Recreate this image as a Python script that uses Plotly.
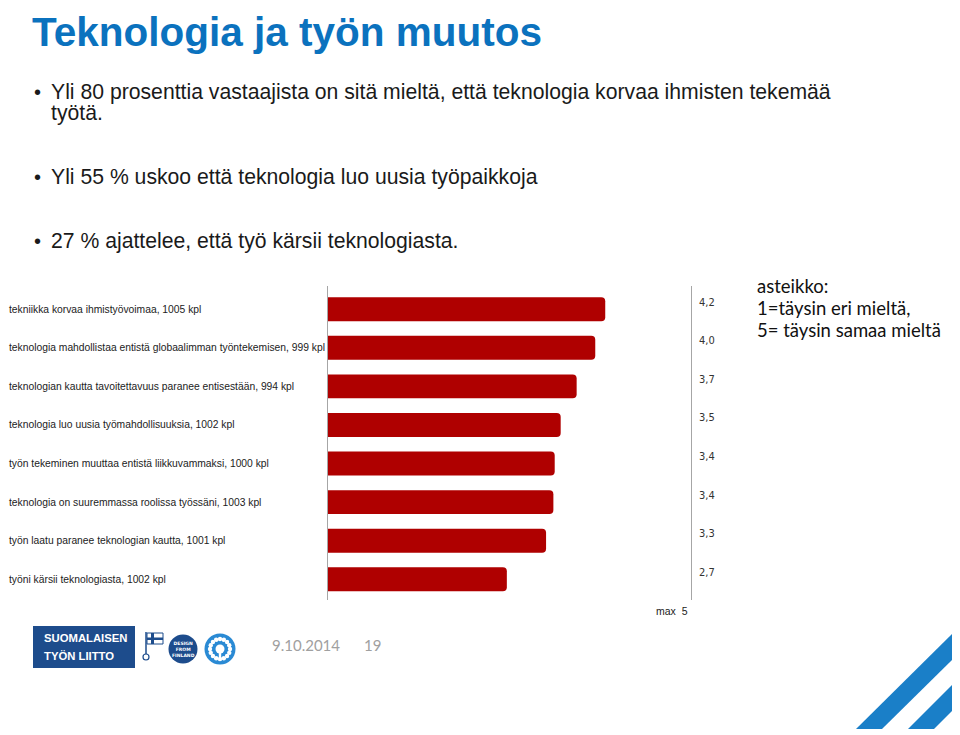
import math
import plotly.graph_objects as go

# page body has an 8px margin, so the figure is placed at (8, 8)
OFF = 8
W, H = 960 - OFF, 735 - OFF

# ---------------- data ----------------
categories = [
    "tekniikka korvaa ihmistyövoimaa, 1005 kpl",
    "teknologia mahdollistaa entistä globaalimman työntekemisen, 999 kpl",
    "teknologian kautta tavoitettavuus paranee entisestään, 994 kpl",
    "teknologia luo uusia työmahdollisuuksia, 1002 kpl",
    "työn tekeminen muuttaa entistä liikkuvammaksi, 1000 kpl",
    "teknologia on suuremmassa roolissa työssäni, 1003 kpl",
    "työn laatu paranee teknologian kautta, 1001 kpl",
    "työni kärsii teknologiasta, 1002 kpl",
]
values = [4.17, 4.02, 3.74, 3.50, 3.41, 3.39, 3.28, 2.69]
value_labels = ["4,2", "4,0", "3,7", "3,5", "3,4", "3,4", "3,3", "2,7"]
scale_max_label = "max  5"

title = "Teknologia ja työn muutos"
bullets = [
    ["Yli 80 prosenttia vastaajista on sitä mieltä, että teknologia korvaa ihmisten tekemää", "työtä."],
    ["Yli 55 % uskoo että teknologia luo uusia työpaikkoja"],
    ["27 % ajattelee, että työ kärsii teknologiasta."],
]
scale_note = ["asteikko:", "1=täysin eri mieltä,", "5= täysin samaa mieltä"]
date_text = "9.10.2014"
page_text = "19"


def px(x):
    return (x - OFF) / W


def py(y):
    return 1 - (y - OFF) / H


BAR_COLOR = "#AF0000"
BLUE = "#0B72BE"
NAVY = "#1D4C8C"

fig = go.Figure()
fig.add_trace(go.Bar(
    y=categories, x=values, orientation="h",
    marker=dict(color=BAR_COLOR, line=dict(width=0)),
    hoverinfo="skip", showlegend=False,
))

# plot area: x 328..691 px, y 286..600 px (screen coordinates)
row_h = 38.57
first_c = 309.25
y_top = -(first_c - 286) / row_h
y_bot = (600 - first_c) / row_h

fig.update_layout(
    width=W, height=H,
    margin=dict(l=0, r=0, t=0, b=0),
    paper_bgcolor="white", plot_bgcolor="white",
    bargap=0.38, barcornerradius=4,
    xaxis=dict(domain=[px(328), px(691)], range=[0, 5.46], visible=False, fixedrange=True),
    yaxis=dict(domain=[py(600), py(286)], type="category", categoryarray=categories,
               range=[y_bot, y_top], showticklabels=False, ticks="",
               showline=True, mirror=True, linecolor="#A6A6A6", linewidth=1,
               showgrid=False, zeroline=False, fixedrange=True),
    font=dict(family="Liberation Sans, Arial, sans-serif", color="#1a1a1a"),
)

ann = []
# category labels
for c in categories:
    ann.append(dict(x=0.0, xref="paper", y=c, yref="y", xanchor="left", yanchor="middle",
                    text=c, showarrow=False, borderpad=0,
                    font=dict(size=10.3, color="#222222", family="Liberation Sans, Arial")))
# value labels
for c, t in zip(categories, value_labels):
    ann.append(dict(x=px(697), xref="paper", y=c, yref="y", xanchor="left", yanchor="middle",
                    yshift=7, text=t, showarrow=False,
                    font=dict(size=11, color="#333333", family="DejaVu Sans Condensed, DejaVu Sans")))
ann.append(dict(x=px(690), xref="paper", y=py(611), yref="paper", xanchor="right", yanchor="middle",
                text=scale_max_label, showarrow=False,
                font=dict(size=10.5, color="#222222", family="Liberation Sans, Arial")))

# title
ann.append(dict(x=px(31), xref="paper", y=py(8), yref="paper", xanchor="left", yanchor="top",
                text=f"<b>{title}</b>", showarrow=False, borderpad=0,
                font=dict(size=40.5, color=BLUE, family="Liberation Sans, Arial")))

# bullets
bullet_y = [[92, 113], [177], [241]]
for lines, ys in zip(bullets, bullet_y):
    ann.append(dict(x=px(32), xref="paper", y=py(ys[0]), yref="paper", xanchor="left",
                    yanchor="middle", text="•", showarrow=False,
                    font=dict(size=20, color="#1a1a1a", family="Liberation Sans, Arial")))
    for line, yy in zip(lines, ys):
        ann.append(dict(x=px(49), xref="paper", y=py(yy), yref="paper", xanchor="left",
                        yanchor="middle", text=line, showarrow=False,
                        font=dict(size=21.2, color="#1a1a1a", family="Liberation Sans, Arial")))

# scale note
for t, yy in zip(scale_note, [286, 308, 330]):
    ann.append(dict(x=px(755), xref="paper", y=py(yy), yref="paper", xanchor="left",
                    yanchor="middle", text=t, showarrow=False,
                    font=dict(size=18.5, color="#111111", family="Lato, Open Sans")))

# footer texts
ann.append(dict(x=px(270), xref="paper", y=py(645), yref="paper", xanchor="left", yanchor="middle",
                text=date_text, showarrow=False,
                font=dict(size=15, color="#A0A0A0", family="Lato, Open Sans")))
ann.append(dict(x=px(362), xref="paper", y=py(645), yref="paper", xanchor="left", yanchor="middle",
                text=page_text, showarrow=False,
                font=dict(size=15, color="#A0A0A0", family="Lato, Open Sans")))
ann.append(dict(x=px(42), xref="paper", y=py(638), yref="paper", xanchor="left", yanchor="middle",
                text="<b>SUOMALAISEN</b>", showarrow=False,
                font=dict(size=11.3, color="white", family="Liberation Sans, Arial")))
ann.append(dict(x=px(42), xref="paper", y=py(656), yref="paper", xanchor="left", yanchor="middle",
                text="<b>TYÖN LIITTO</b>", showarrow=False,
                font=dict(size=11.3, color="white", family="Liberation Sans, Arial")))
ann.append(dict(x=px(183), xref="paper", y=py(649), yref="paper", xanchor="center", yanchor="middle",
                text="<b>DESIGN<br>FROM<br>FINLAND</b>", showarrow=False,
                font=dict(size=4.5, color="white", family="DejaVu Sans")))

shapes = []


def rect(x0, y0, x1, y1, color, layer="below"):
    shapes.append(dict(type="rect", xref="paper", yref="paper", x0=px(x0), x1=px(x1),
                       y0=py(y1), y1=py(y0), fillcolor=color, line=dict(width=0), layer=layer))


def circle(cx, cy, r, color, line_color=None, lw=0):
    shapes.append(dict(type="circle", xref="paper", yref="paper", x0=px(cx - r), x1=px(cx + r),
                       y0=py(cy + r), y1=py(cy - r), fillcolor=color,
                       line=dict(width=lw, color=line_color or color), layer="above"))


def poly(points, color):
    d = "M " + " L ".join(f"{px(x):.5f},{py(y):.5f}" for x, y in points) + " Z"
    shapes.append(dict(type="path", xref="paper", yref="paper", path=d, fillcolor=color,
                       line=dict(width=0), layer="below"))


# logo box
rect(33, 626, 135, 668, NAVY)
# flag icon
shapes.append(dict(type="line", xref="paper", yref="paper", x0=px(146), x1=px(146), y0=py(654), y1=py(632),
                   line=dict(color=NAVY, width=1.5)))
shapes.append(dict(type="rect", xref="paper", yref="paper", x0=px(147), x1=px(163), y0=py(644), y1=py(633),
                   fillcolor="white", line=dict(color=NAVY, width=1), layer="above"))
rect(151, 633, 154, 644, NAVY, layer="above")
rect(147, 637.5, 163, 640, NAVY, layer="above")
circle(146, 657, 3, "white", NAVY, 1.2)
# design from finland
circle(183, 649, 14.5, NAVY)
# flower logo
circle(220, 649, 15.5, "#2A8AD4")
for k in range(16):
    a = 2 * math.pi * k / 16
    circle(220 + 10 * math.cos(a), 649 + 10 * math.sin(a), 2.2, "white")
circle(220, 649, 4.5, "white")
rect(218.8, 649, 221.2, 661, "white", layer="above")

# blue diagonal stripes
poly([(856, 729), (882, 729), (960, 652), (960, 626)], "#1A7FC8")
poly([(908, 729), (934, 729), (960, 703), (960, 677)], "#1A7FC8")

fig.update_layout(annotations=ann, shapes=shapes)
fig.write_html("out.html")
